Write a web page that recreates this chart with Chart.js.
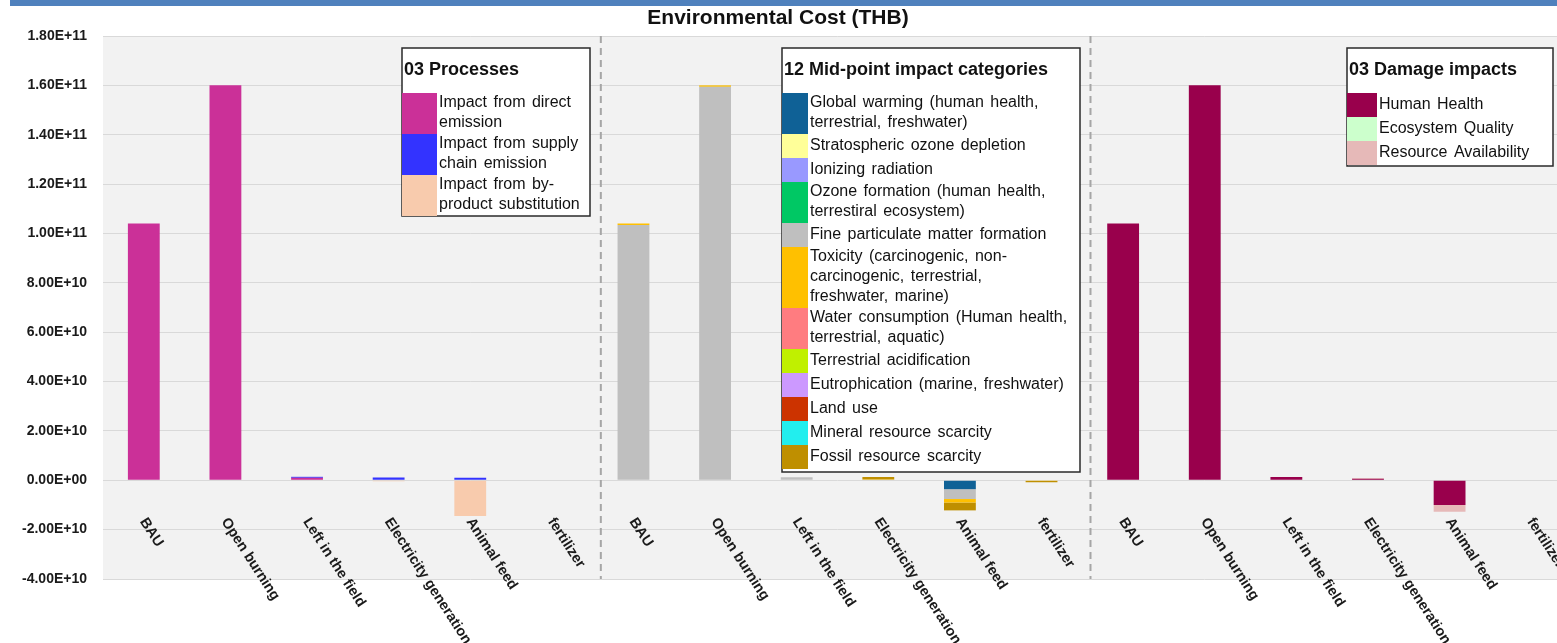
<!DOCTYPE html>
<html>
<head>
<meta charset="utf-8">
<script src="https://cdn.jsdelivr.net/npm/chart.js@4.4.1/dist/chart.umd.min.js"></script>
<style>
  html, body { margin: 0; padding: 0; background: #fff; overflow: hidden; }
  #wrap { width: 1575px; height: 643px; }
</style>
</head>
<body>
<div id="wrap"><canvas id="envChart" width="1575" height="643"></canvas></div>
<script>
const scenarios = ['BAU', 'Open burning', 'Left in the field', 'Electricity generation', 'Animal feed', 'fertilizer'];
const labels = scenarios.concat(scenarios, scenarios);

const yTickValues = [-4e10, -2e10, 0, 2e10, 4e10, 6e10, 8e10, 1e11, 1.2e11, 1.4e11, 1.6e11, 1.8e11];
const yTickLabels = ['-4.00E+10', '-2.00E+10', '0.00E+00', '2.00E+10', '4.00E+10', '6.00E+10',
  '8.00E+10', '1.00E+11', '1.20E+11', '1.40E+11', '1.60E+11', '1.80E+11'];

// group 1: 03 Processes
const processNames = ['Impact from direct\nemission', 'Impact from supply\nchain emission', 'Impact from by-\nproduct substitution'];
const processColors = ['#cb3098', '#3333ff', '#f8cbad'];
const directEmission = [1.04e11, 1.60e11, 1.0e9, null, null, null];
const supplyChain = [null, null, 0.4e9, 1.1e9, 1.0e9, null];
const byProduct = [null, null, null, -0.4e9, -1.45e10, null];

// group 2: 12 Mid-point impact categories
const midpointNames = ['Global warming (human health,\nterrestrial, freshwater)', 'Stratospheric ozone depletion',
  'Ionizing radiation', 'Ozone formation (human health,\nterrestiral ecosystem)', 'Fine particulate matter formation',
  'Toxicity (carcinogenic, non-\ncarcinogenic, terrestrial,\nfreshwater, marine)',
  'Water consumption (Human health,\nterrestrial, aquatic)', 'Terrestrial acidification',
  'Eutrophication (marine, freshwater)', 'Land use', 'Mineral resource scarcity', 'Fossil resource scarcity'];
const midpointColors = ['#0f6196', '#ffff99', '#9999ff', '#00c864', '#bfbfbf', '#ffc000',
  '#ff7c80', '#c0f000', '#cc99ff', '#cc3300', '#22eeee', '#bf8f00'];
const globalWarming = [null, null, null, null, -3.6e9, null];
const ozoneDepletion = [null, null, null, null, null, null];
const ionizing = [null, null, null, null, null, null];
const ozoneFormation = [null, null, null, null, null, null];
const fineParticulate = [1.034e11, 1.594e11, 1.2e9, null, -4.0e9, null];
const toxicity = [0.6e9, 0.6e9, null, 0.3e9, -1.4e9, -0.3e9];
const waterUse = [null, null, null, null, null, null];
const acidification = [null, null, null, null, null, null];
const eutrophication = [null, null, null, null, null, null];
const landUse = [null, null, null, null, null, null];
const mineral = [null, null, null, null, null, null];
const fossil = [null, null, null, 1.0e9, -3.2e9, -0.5e9];

// group 3: 03 Damage impacts
const damageNames = ['Human Health', 'Ecosystem Quality', 'Resource Availability'];
const damageColors = ['#99004c', '#ccffcc', '#e6b9b8'];
const humanHealth = [1.04e11, 1.60e11, 1.3e9, 0.6e9, -1.0e10, null];
const ecosystem = [null, null, null, null, null, null];
const resources = [null, null, null, 0.3e9, -2.8e9, null];

const groups = [
  { names: processNames, colors: processColors, series: [directEmission, supplyChain, byProduct] },
  { names: midpointNames, colors: midpointColors, series: [globalWarming, ozoneDepletion, ionizing, ozoneFormation,
    fineParticulate, toxicity, waterUse, acidification, eutrophication, landUse, mineral, fossil] },
  { names: damageNames, colors: damageColors, series: [humanHealth, ecosystem, resources] }
];

const datasets = [];
groups.forEach((g, gi) => {
  g.series.forEach((vals, si) => {
    const data = new Array(labels.length).fill(null);
    vals.forEach((v, k) => { data[gi * scenarios.length + k] = v; });
    datasets.push({
      label: g.names[si].replace(/\n/g, ' '),
      data: data,
      backgroundColor: g.colors[si],
      borderWidth: 0,
      stack: 'all',
      barPercentage: 0.39,
      categoryPercentage: 1
    });
  });
});

const FONT = '"Liberation Sans", Arial, sans-serif';

function drawLegend(ctx, box, title, names, colors, swW) {
  ctx.save();
  ctx.fillStyle = '#fff';
  ctx.fillRect(box.x, box.y, box.w, box.h);
  ctx.strokeStyle = '#2a2a2a';
  ctx.lineWidth = 1.5;
  ctx.strokeRect(box.x, box.y, box.w, box.h);
  ctx.fillStyle = '#111';
  ctx.textBaseline = 'middle';
  ctx.textAlign = 'left';
  ctx.font = 'bold 18px ' + FONT;
  ctx.fillText(title, box.x + 2, box.y + 22, box.w - 4);
  ctx.font = '16px ' + FONT;
  if ('wordSpacing' in ctx) ctx.wordSpacing = '2px';
  let y = box.y + 45;
  names.forEach((name, i) => {
    const lines = name.split('\n');
    const h = lines.length === 1 ? 24 : lines.length * 20 + 1;
    ctx.fillStyle = colors[i];
    ctx.fillRect(box.x, y, swW, h);
    ctx.fillStyle = '#111';
    lines.forEach((ln, j) => {
      const ty = y + (lines.length === 1 ? 12 : 10 + j * 20);
      ctx.fillText(ln, box.x + swW + 2, ty, box.x + box.w - (box.x + swW + 2) - 2);
    });
    y += h;
  });
  ctx.restore();
}

const decorations = {
  id: 'decorations',
  beforeDraw(chart) {
    const { ctx, chartArea: a } = chart;
    ctx.save();
    ctx.fillStyle = '#f2f2f2';
    ctx.fillRect(a.left, a.top, a.right - a.left, a.bottom - a.top);
    ctx.restore();
  },
  afterDraw(chart) {
    const { ctx, chartArea: a } = chart;
    const xs = chart.scales.x, ys = chart.scales.y;
    ctx.save();
    // top strip
    ctx.fillStyle = '#4f81bd';
    ctx.fillRect(10, 0, 1547, 6);
    // title
    ctx.fillStyle = '#111';
    ctx.font = 'bold 21px ' + FONT;
    ctx.textAlign = 'center';
    ctx.textBaseline = 'middle';
    ctx.fillText('Environmental Cost (THB)', 778, 18);
    // group separators
    ctx.strokeStyle = '#a6a6a6';
    ctx.lineWidth = 2;
    ctx.setLineDash([7, 5]);
    [5.6, 11.6].forEach(v => {
      const px = xs.getPixelForValue(v);
      ctx.beginPath();
      ctx.moveTo(px, a.top);
      ctx.lineTo(px, a.bottom);
      ctx.stroke();
    });
    ctx.setLineDash([]);
    // rotated category labels
    const y0 = ys.getPixelForValue(0);
    ctx.font = 'bold 14.5px ' + FONT;
    ctx.fillStyle = '#1a1a1a';
    ctx.textAlign = 'left';
    ctx.textBaseline = 'middle';
    labels.forEach((lab, i) => {
      const px = xs.getPixelForValue(i);
      ctx.save();
      ctx.translate(px - 1, y0 + 39);
      ctx.rotate(57 * Math.PI / 180);
      ctx.fillText(lab, 0, 0);
      ctx.restore();
    });
    ctx.restore();
    // legends
    drawLegend(ctx, { x: 402, y: 48, w: 188, h: 168 }, '03 Processes', processNames, processColors, 35);
    drawLegend(ctx, { x: 782, y: 48, w: 298, h: 424 }, '12 Mid-point impact categories', midpointNames, midpointColors, 26);
    drawLegend(ctx, { x: 1347, y: 48, w: 206, h: 118 }, '03 Damage impacts', damageNames, damageColors, 30);
  }
};

new Chart(document.getElementById('envChart'), {
  type: 'bar',
  data: { labels: labels, datasets: datasets },
  options: {
    responsive: false,
    animation: false,
    devicePixelRatio: 1,
    layout: { padding: { top: 36, bottom: 64, left: 0, right: 3 } },
    plugins: { legend: { display: false }, tooltip: { enabled: false }, title: { display: false } },
    scales: {
      x: { stacked: true, display: false },
      y: {
        stacked: true,
        min: -4e10,
        max: 1.8e11,
        afterBuildTicks: s => { s.ticks = yTickValues.map(v => ({ value: v })); },
        afterFit: s => { s.width = 103; },
        grid: { color: '#d9d9d9', drawTicks: false, lineWidth: 1 },
        border: { display: false },
        ticks: {
          padding: 16,
          color: '#1a1a1a',
          font: { weight: 'bold', size: 14, family: FONT },
          callback: v => yTickLabels[yTickValues.indexOf(v)]
        }
      }
    }
  },
  plugins: [decorations]
});
</script>
</body>
</html>
